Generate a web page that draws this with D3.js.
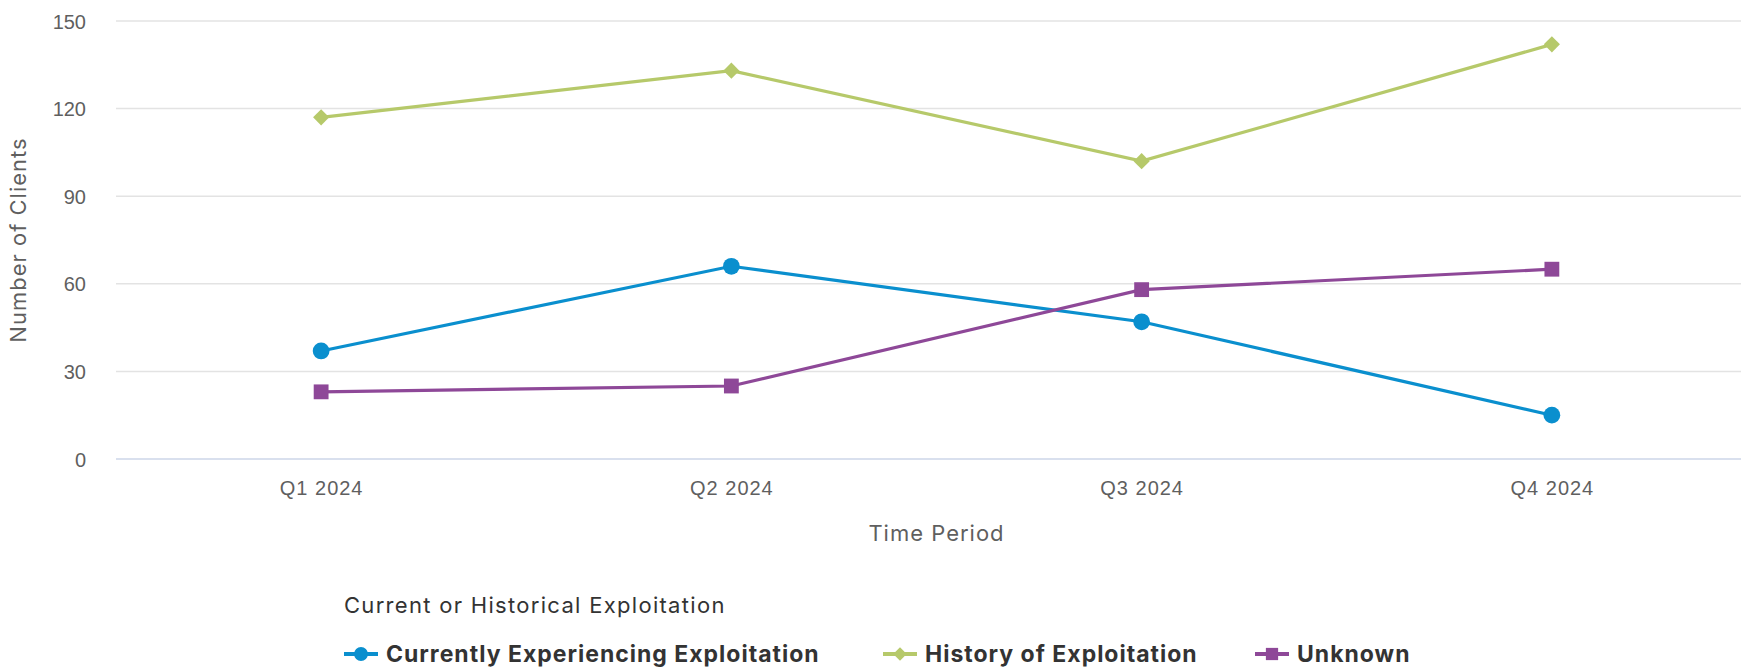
<!DOCTYPE html>
<html>
<head>
<meta charset="utf-8">
<script src="https://cdn.jsdelivr.net/npm/d3@7"></script>
<style>
  body { margin: 0; background: #fff; }
  svg { display: block; font-family: Inter, "Open Sans", sans-serif; }
  .axis text { fill: #5f5f5f; }
</style>
</head>
<body>
<svg width="1741" height="668"></svg>
<script>
// data
var periods = ["Q1 2024", "Q2 2024", "Q3 2024", "Q4 2024"];
var currentVals = [37, 66, 47, 15];
var historyVals = [117, 133, 102, 142];
var unknownVals = [23, 25, 58, 65];
var yTicks = [0, 30, 60, 90, 120, 150];
var seriesNames = ["Currently Experiencing Exploitation", "History of Exploitation", "Unknown"];
var seriesColors = ["#0a8fce", "#b6c96a", "#8e4898"];
// diamond = square turned 45deg
var seriesShapes = [d3.symbolCircle, d3.symbolSquare, d3.symbolSquare];
var seriesRotate = [0, 45, 0];

var svg = d3.select("svg"),
    width = +svg.attr("width"),
    margin = {top: 21, left: 116},
    plotBottom = 459,
    plotRight = 1757;

var x = d3.scalePoint().domain(periods).range([margin.left, plotRight]).padding(0.5);
var y = d3.scaleLinear().domain([0, 150]).range([plotBottom, margin.top]);

// grid
svg.append("g")
  .selectAll("line")
  .data(yTicks)
  .enter().append("line")
  .attr("x1", margin.left).attr("x2", width)
  .attr("y1", function(d) { return y(d); })
  .attr("y2", function(d) { return y(d); })
  .attr("stroke", function(d) { return d === 0 ? "#cdd6e8" : "#e3e3e3"; })
  .attr("stroke-width", 1.5);

// y axis
var yAxis = svg.append("g")
  .attr("class", "axis")
  .attr("transform", "translate(" + (margin.left - 30) + ",0)")
  .call(d3.axisLeft(y).tickValues(yTicks).tickSize(0).tickPadding(0));
yAxis.select(".domain").remove();
yAxis.selectAll("text").attr("font-size", 20).attr("dy", "0.35em");

svg.append("text")
  .attr("transform", "translate(26," + ((plotBottom + margin.top) / 2) + ") rotate(-90)")
  .attr("text-anchor", "middle")
  .attr("font-size", 22)
  .attr("letter-spacing", 1)
  .attr("fill", "#5f5f5f")
  .text("Number of Clients");

// x axis
var xAxis = svg.append("g")
  .attr("class", "axis")
  .attr("transform", "translate(0," + plotBottom + ")")
  .call(d3.axisBottom(x).tickSize(0).tickPadding(29));
xAxis.select(".domain").remove();
xAxis.selectAll("text").attr("font-size", 20).attr("letter-spacing", 1).attr("dy", "0.35em");

svg.append("text")
  .attr("x", (margin.left + plotRight) / 2)
  .attr("y", 533)
  .attr("dy", "0.35em")
  .attr("text-anchor", "middle")
  .attr("font-size", 22)
  .attr("letter-spacing", 1)
  .attr("fill", "#5f5f5f")
  .text("Time Period");

// lines
var series = [currentVals, historyVals, unknownVals];
var line = d3.line()
  .x(function(d, i) { return x(periods[i]); })
  .y(function(d) { return y(d); });

series.forEach(function(vals, si) {
  var g = svg.append("g");
  g.append("path")
    .datum(vals)
    .attr("fill", "none")
    .attr("stroke", seriesColors[si])
    .attr("stroke-width", 3.2)
    .attr("d", line);
  g.selectAll("path.pt")
    .data(vals)
    .enter().append("path")
    .attr("class", "pt")
    .attr("transform", function(d, i) {
      return "translate(" + x(periods[i]) + "," + y(d) + ") rotate(" + seriesRotate[si] + ")";
    })
    .attr("d", d3.symbol().type(seriesShapes[si]).size(si === 1 ? 130 : 220))
    .attr("fill", seriesColors[si]);
});

// legend
svg.append("text")
  .attr("x", 344).attr("y", 605)
  .attr("dy", "0.35em")
  .attr("font-size", 22)
  .attr("letter-spacing", 1.3)
  .attr("fill", "#333")
  .text("Current or Historical Exploitation");

var legendX = [344, 883, 1255];
var legend = svg.append("g").selectAll("g")
  .data(seriesNames)
  .enter().append("g")
  .attr("transform", function(d, i) { return "translate(" + legendX[i] + ",654)"; });
legend.append("line")
  .attr("x1", 0).attr("x2", 34)
  .attr("stroke", function(d, i) { return seriesColors[i]; })
  .attr("stroke-width", 4);
legend.append("path")
  .attr("transform", function(d, i) { return "translate(17,0) rotate(" + seriesRotate[i] + ")"; })
  .attr("d", function(d, i) { return d3.symbol().type(seriesShapes[i]).size(i === 1 ? 90 : 150)(); })
  .attr("fill", function(d, i) { return seriesColors[i]; });
legend.append("text")
  .attr("x", 42)
  .attr("dy", "0.35em")
  .attr("font-size", 23)
  .attr("font-weight", "bold")
  .attr("letter-spacing", 1)
  .attr("fill", "#333")
  .text(function(d) { return d; });
</script>
</body>
</html>
